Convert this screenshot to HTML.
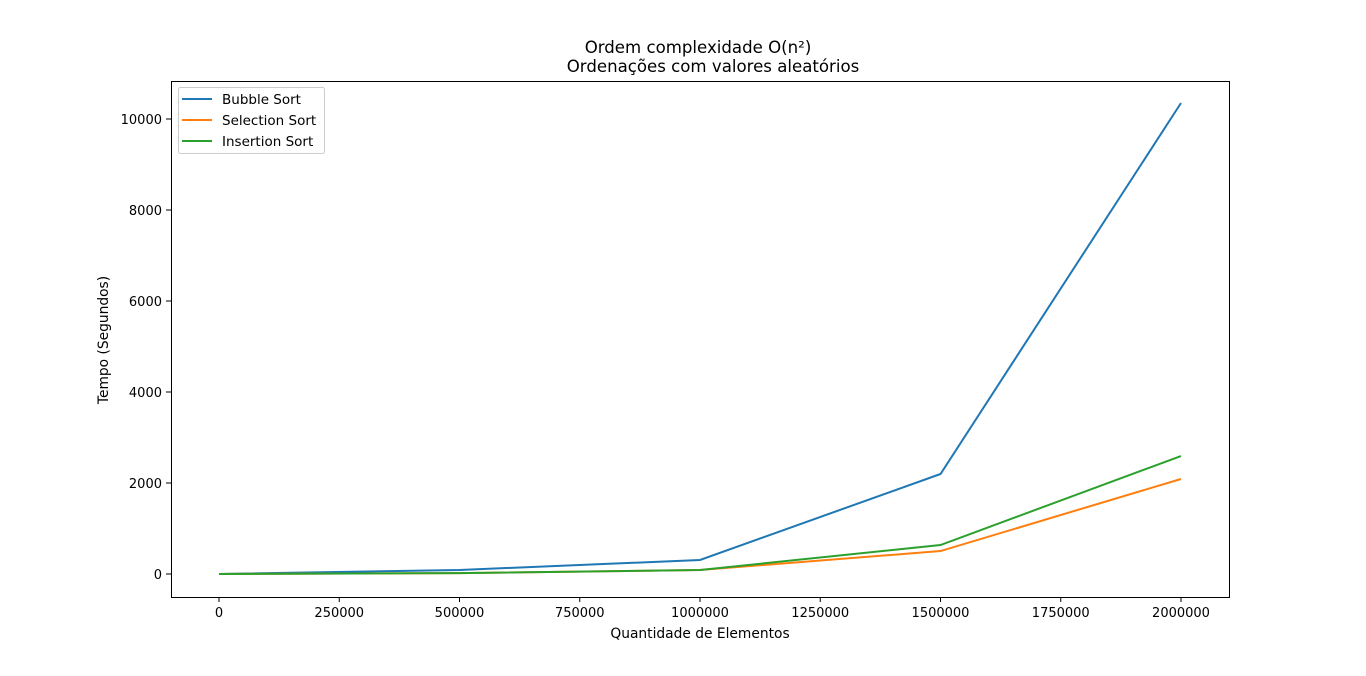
<!DOCTYPE html>
<html><head><meta charset="utf-8"><style>
body{margin:0;background:#fff;}
svg text{font-family:"DejaVu Sans","Liberation Sans",sans-serif;fill:#000;}
</style></head><body>
<svg id="chart" width="1366" height="671">
<text x="698" y="53" font-size="16.6" text-anchor="middle">Ordem complexidade O(n²)</text>
<text x="713" y="72" font-size="16.6" text-anchor="middle">Ordenações com valores aleatórios</text>
<rect x="171.5" y="81.5" width="1058" height="516" fill="none" stroke="#000"/>
<g id="xt"></g><g id="yt"></g><g id="lines"></g>
<text x="700" y="638" font-size="13.8" text-anchor="middle">Quantidade de Elementos</text>
<text transform="translate(108,340) rotate(-90)" font-size="13.8" text-anchor="middle">Tempo (Segundos)</text>
<g>
<rect x="178.5" y="87.5" width="146" height="66" rx="2" fill="#fff" stroke="#ccc"/>
<line x1="182" y1="99" x2="212" y2="99" stroke="#1f77b4" stroke-width="2"/>
<text x="222" y="104" font-size="13.5">Bubble Sort</text>
<line x1="182" y1="120" x2="212" y2="120" stroke="#ff7f0e" stroke-width="2"/>
<text x="222" y="125" font-size="13.5">Selection Sort</text>
<line x1="182" y1="141" x2="212" y2="141" stroke="#2ca02c" stroke-width="2"/>
<text x="222" y="146" font-size="13.5">Insertion Sort</text>
</g>
</svg>
<script>
const xValues=[0,500000,1000000,1500000,2000000];
const bubble=[0,88,308,2198,10352];
const selection=[0,20,88,505,2088];
const insertion=[0,20,88,637,2593];
const xTicks=[0,250000,500000,750000,1000000,1250000,1500000,1750000,2000000];
const yTicks=[0,2000,4000,6000,8000,10000];
const NS="http://www.w3.org/2000/svg";
const sx=v=>219+v*(1181-219)/2000000;
const sy=v=>574-v*0.0455;
const xt=document.getElementById('xt'),yt=document.getElementById('yt'),lg=document.getElementById('lines');
xTicks.forEach(t=>{
 const l=document.createElementNS(NS,'line');l.setAttribute('x1',sx(t));l.setAttribute('x2',sx(t));l.setAttribute('y1',597);l.setAttribute('y2',602);l.setAttribute('stroke','#000');
 
 
 xt.appendChild(l);
 const s=document.createElementNS(NS,'text');s.setAttribute('x',sx(t));s.setAttribute('y',617);s.setAttribute('font-size','13');s.setAttribute('text-anchor','middle');s.textContent=t;
 
 
 xt.appendChild(s);
});
yTicks.forEach(t=>{
 const l=document.createElementNS(NS,'line');l.setAttribute('x1',166);l.setAttribute('x2',171);l.setAttribute('y1',sy(t));l.setAttribute('y2',sy(t));l.setAttribute('stroke','#000');
 
 
 yt.appendChild(l);
 const s=document.createElementNS(NS,'text');s.setAttribute('x',162);s.setAttribute('y',sy(t)+5);s.setAttribute('font-size','13');s.setAttribute('text-anchor','end');s.textContent=t;
 
 
 yt.appendChild(s);
});
[[bubble,'#1f77b4','bubble-sort-line'],[selection,'#ff7f0e','selection-sort-line'],[insertion,'#2ca02c','insertion-sort-line']].forEach(([d,c,n])=>{
 const p=document.createElementNS(NS,'polyline');
 p.setAttribute('points',d.map((v,i)=>sx(xValues[i])+','+sy(v)).join(' '));
 p.setAttribute('fill','none');p.setAttribute('stroke',c);p.setAttribute('stroke-width','2');
 
 
 lg.appendChild(p);
});
</script>
</body></html>
